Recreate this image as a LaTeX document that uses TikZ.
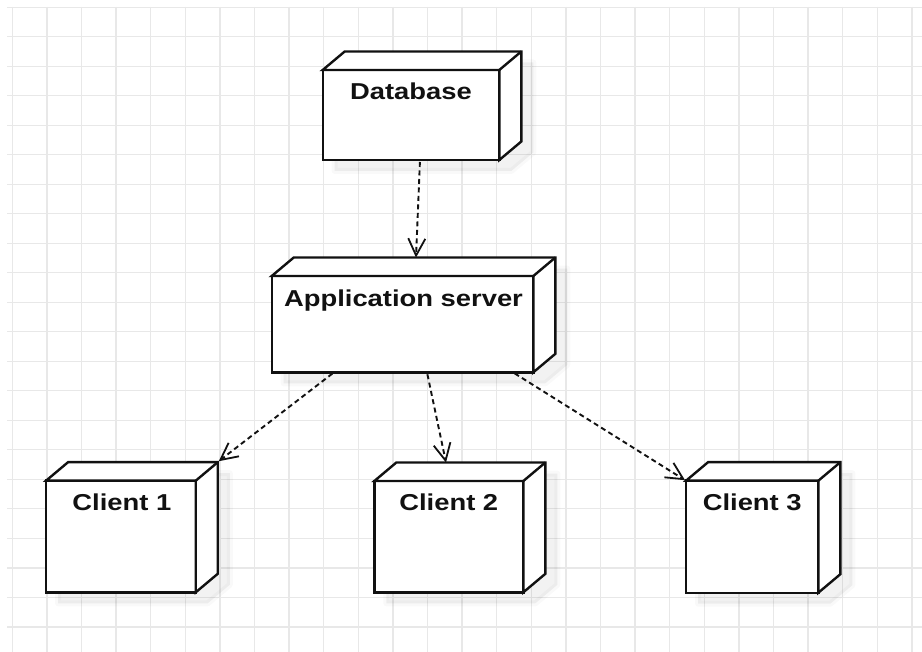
\documentclass[tikz,border=0pt]{standalone}
\usepackage{fontspec}
\setmainfont{Liberation Sans}
\usetikzlibrary{arrows.meta,calc}
\definecolor{ink}{HTML}{111111}
\definecolor{gridc}{HTML}{E8E8E8}
\pgfdeclarelayer{bg}
\pgfsetlayers{bg,main}
\tikzset{
  face/.style={draw=ink, line width=2.4pt, fill=white, inner sep=0pt, outer sep=0pt, shape=rectangle},
  edge/.style={draw=ink, line width=2.4pt, line join=miter},
  lbl/.style={anchor=base, inner sep=0pt, text=ink, font=\fontsize{23}{23}\selectfont\bfseries},
  dep/.style={draw=ink, line width=1.9pt, dash pattern=on 5pt off 3.5pt, shorten <=2pt,
              -{Straight Barb[length=17pt,width=17pt,line width=1.8pt]}},
  gridline/.style={draw=gridc, line width=1.4pt},
}
\newcommand{\mycube}[1]{%
  \draw[edge, fill=white] (#1.north west) -- ($(#1.north west)+(22,-18.5)$)
     -- ($(#1.north east)+(22,-18.5)$) -- ($(#1.south east)+(22,-18.5)$)
     -- (#1.south east) -- (#1.north east) -- cycle;
  \draw[edge] (#1.north east) -- ($(#1.north east)+(22,-18.5)$);}
\newcommand{\myshadow}[1]{%
  \path[fill=black, fill opacity=0.05, draw=black, draw opacity=0.025, line width=6pt, line join=round]
     ($(#1.south west)+(12,11)$) -- ($(#1.north west)+(12,11)$)
     -- ($(#1.north west)+(34,-7.5)$) -- ($(#1.north east)+(34,-7.5)$)
     -- ($(#1.south east)+(34,-7.5)$) -- ($(#1.south east)+(12,11)$) -- cycle;}
\begin{document}
\begin{tikzpicture}[x=1pt,y=-1pt]
\useasboundingbox (0,0) rectangle (922,652);
% nodes (front faces)
\node[face, minimum width=176.6pt, minimum height=90pt]   (db)  at (411,115)   {};
\node[face, minimum width=261.6pt, minimum height=96.3pt] (app) at (402.5,324.2) {};
\node[face, minimum width=149.7pt, minimum height=111.6pt] (c1) at (120.9,536.5) {};
\node[face, minimum width=149pt,   minimum height=111.3pt] (c2) at (448.8,536.7) {};
\node[face, minimum width=132.3pt, minimum height=112pt]   (c3) at (752.2,536.7) {};
\mycube{db}\mycube{app}\mycube{c1}\mycube{c2}\mycube{c3}
% labels
\node[lbl] (dbt)  at ($(db.north)+(0,30)$)  {\scalebox{1.19}[1]{Database}};
\node[lbl] (appt) at ($(app.north)+(1,30.5)$) {\scalebox{1.19}[1]{Application server}};
\node[lbl] (c1t)  at ($(c1.north)+(1,30)$)  {\scalebox{1.19}[1]{Client 1}};
\node[lbl] (c2t)  at ($(c2.north)+(0,29.5)$)  {\scalebox{1.19}[1]{Client 2}};
\node[lbl] (c3t)  at ($(c3.north)+(0,29.5)$)  {\scalebox{1.19}[1]{Client 3}};
% connectors
\draw[dep] ($(db.south)+(9,0)$) -- ($(app.north)+(13.5,-18.5)$);
\draw[dep] ($(app.south)+(-68.5,0)$) -- ($(c1.north east)+(23,-19.5)$);
\draw[dep] ($(app.south)+(24.5,0)$) -- ($(c2.north)+(-2.8,-18.5)$);
\draw[dep] ($(app.south)+(110.5,0)$) -- ($(c3.north west)+(-1,-0.5)$);
% background layer
\begin{pgfonlayer}{bg}
  \fill[white] (0,0) rectangle (922,652);
  \foreach \i in {0,...,26} \draw[gridline] ({12.2+34.6*\i},7) -- ({12.2+34.6*\i},652);
  \foreach \j in {0,...,21} \draw[gridline] (7,{7.3+29.5*\j}) -- (922,{7.3+29.5*\j});
  \myshadow{db}\myshadow{app}\myshadow{c1}\myshadow{c2}\myshadow{c3}
\end{pgfonlayer}
\end{tikzpicture}
\end{document}
